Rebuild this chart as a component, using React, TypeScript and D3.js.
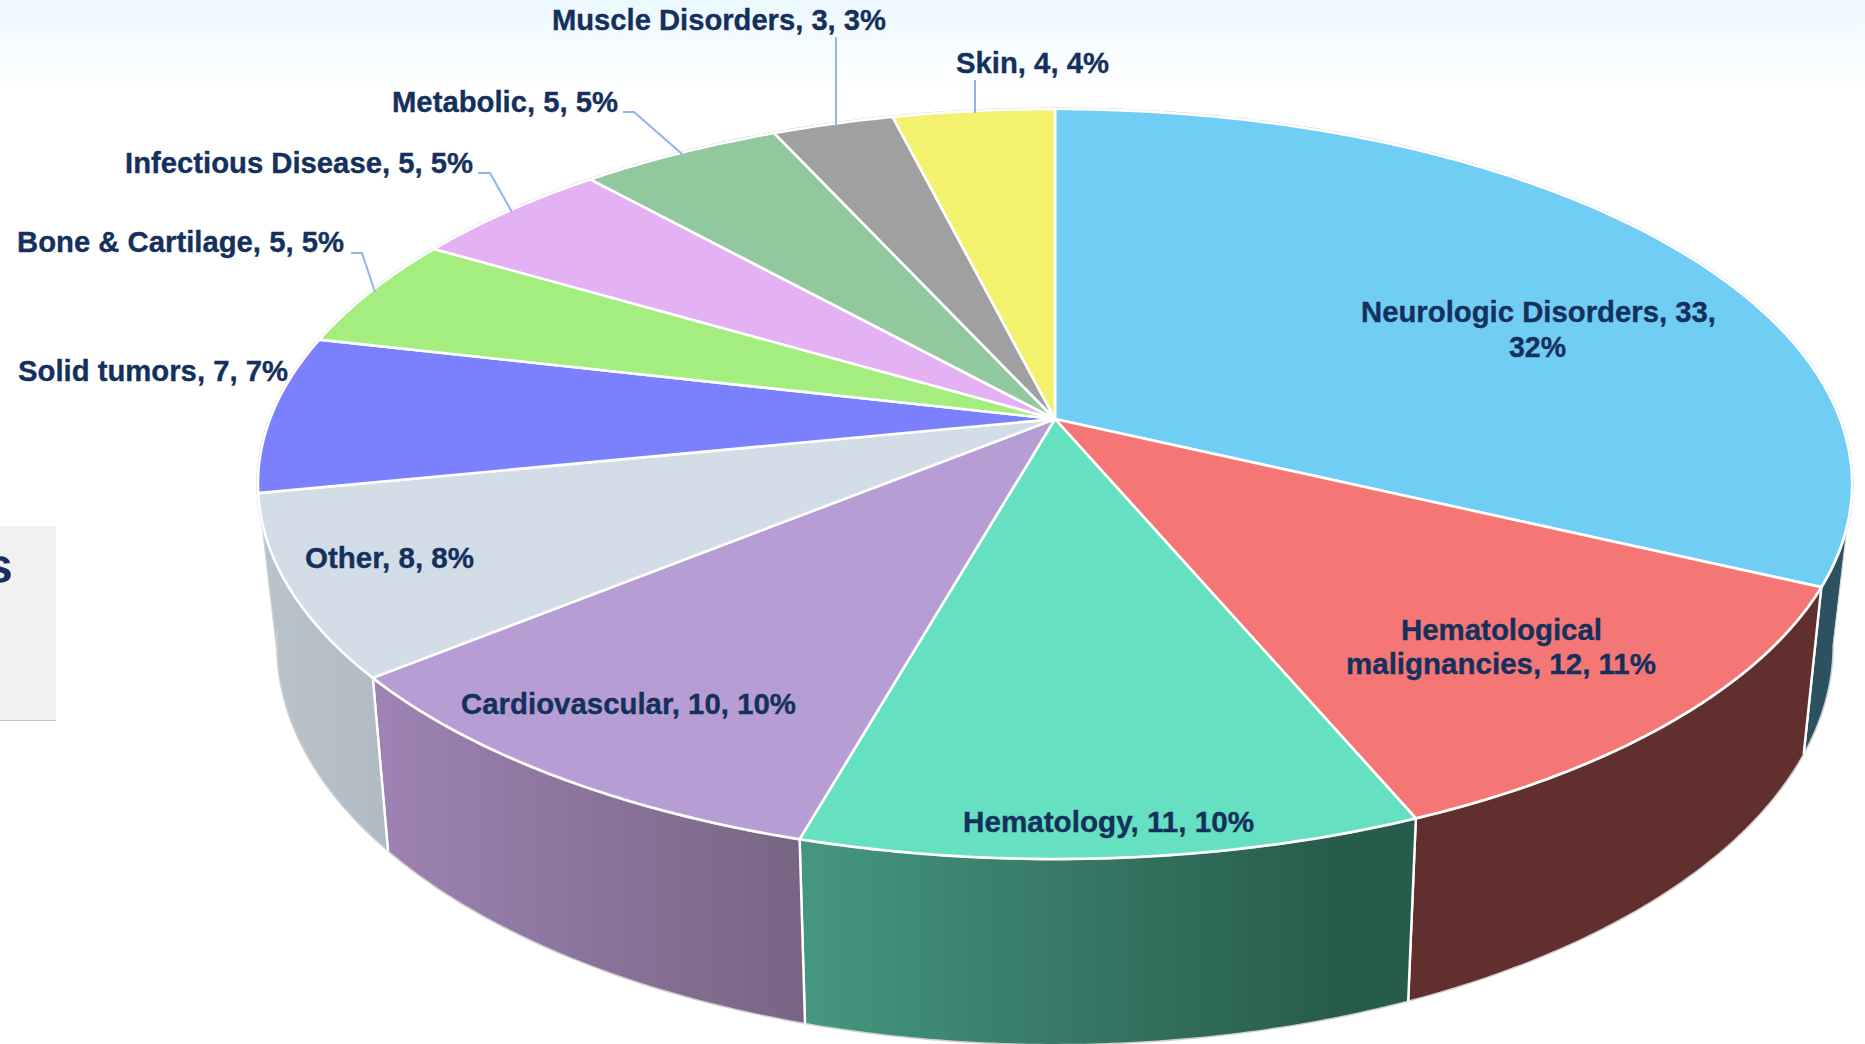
import React from "react";
import * as d3 from "d3";

const categories = ["Neurologic Disorders", "Hematological malignancies", "Hematology", "Cardiovascular", "Other", "Solid tumors", "Bone & Cartilage", "Infectious Disease", "Metabolic", "Muscle Disorders", "Skin"];
const values = [33, 12, 11, 10, 8, 7, 5, 5, 5, 3, 4];
const percents = [32, 11, 10, 10, 8, 7, 5, 5, 5, 3, 4];

const topColors = ["#70cdf4", "#f57775", "#65e0c0", "#b69dd4", "#d3dde8", "#7b80fd", "#a3ee7e", "#e4b1f2", "#92c89e", "#a0a0a0", "#f2f26f"];
const wallStops: Record<number, [string, string, number, number]> = {
  0: ["#2c5161", "#2c5161", 1800, 1850],
  1: ["#622f2f", "#622f2f", 1400, 1810],
  2: ["#459680", "#275b4b", 805, 1340],
  3: ["#9d82b3", "#786583", 385, 800],
  4: ["#b8c3cc", "#b0bbc4", 265, 385],
};

const labelLines: { i: number; part: "all" | 0 | 1; x: number; y: number; w: number }[] = [
  { i: 0, part: 0, x: 1361, y: 322, w: 355 },
  { i: 0, part: 1, x: 1509, y: 357, w: 57 },
  { i: 1, part: 0, x: 1401, y: 640, w: 201 },
  { i: 1, part: 1, x: 1346, y: 674, w: 310 },
  { i: 2, part: "all", x: 963, y: 832, w: 291 },
  { i: 3, part: "all", x: 461, y: 714, w: 335 },
  { i: 4, part: "all", x: 305, y: 568, w: 169 },
  { i: 5, part: "all", x: 18, y: 381, w: 270 },
  { i: 6, part: "all", x: 17, y: 252, w: 327 },
  { i: 7, part: "all", x: 125, y: 173, w: 348 },
  { i: 8, part: "all", x: 392, y: 112, w: 226 },
  { i: 9, part: "all", x: 552, y: 30, w: 334 },
  { i: 10, part: "all", x: 956, y: 73, w: 153 },
];
const leaders: [number, number][][] = [
  [[351, 253], [362, 253], [375, 292]],
  [[478, 173], [490, 173], [512, 212]],
  [[623, 112], [634, 112], [682, 154]],
  [[836, 37], [836, 126]],
  [[975, 80], [975, 113]],
];

const CX = 1055;
const topPlane = { y0: 419, a: 785, b: 363.7, k: 0.1733 };
const botPlane = { y0: 575, a: 766, b: 387, k: 0.176 };

type Plane = typeof topPlane;
const project = (p: Plane, t: number): [number, number] => {
  const u = Math.sin(t), v = -Math.cos(t), d = 1 - p.k * v;
  return [CX + (p.a * u) / d, p.y0 + (p.b * v) / d];
};
const line = d3.line<[number, number]>().x((d) => d[0]).y((d) => d[1]);
const samples = (a: number, b: number) => {
  const n = Math.max(2, Math.ceil(Math.abs(b - a) / 0.01));
  return d3.range(n + 1).map((i) => a + ((b - a) * i) / n);
};

const arcs = d3.pie<number>().sort(null).value((d) => d)(values);
const rad = (deg: number) => (deg * Math.PI) / 180;
const wallRange = (i: number): [number, number] | null => {
  const a = arcs[i];
  const lo = Math.max(a.startAngle, rad(100));
  const hi = Math.min(a.endAngle, rad(262));
  return hi > lo ? [lo, hi] : null;
};

const labelText = (l: (typeof labelLines)[number]) => {
  const full = `${categories[l.i]}, ${values[l.i]}, ${percents[l.i]}%`;
  if (l.part === "all") return full;
  if (l.i === 0) return l.part === 0 ? `${categories[0]}, ${values[0]},` : `${percents[0]}%`;
  return l.part === 0 ? "Hematological" : `malignancies, ${values[1]}, ${percents[1]}%`;
};

export default function App() {
  const rim = line(samples(0, Math.PI * 2).map((t) => project(topPlane, t))) + "Z";
  return (
    <svg
      width={1865}
      height={1044}
      viewBox="0 0 1865 1044"
      style={{ position: "fixed", left: 0, top: 0, background: "#fff" }}
      fontFamily="'Liberation Sans', Arial, sans-serif"
    >
      <defs>
        <linearGradient id="bg" x1="0" x2="0" y1="0" y2="1">
          <stop offset="0" stopColor="#ecf8ff" />
          <stop offset="1" stopColor="#ffffff" />
        </linearGradient>
        {values.map((_, i) =>
          wallStops[i] ? (
            <linearGradient key={i} id={`w${i}`} gradientUnits="userSpaceOnUse" x1={wallStops[i][2]} x2={wallStops[i][3]} y1={0} y2={0}>
              <stop offset="0" stopColor={wallStops[i][0]} />
              <stop offset="1" stopColor={wallStops[i][1]} />
            </linearGradient>
          ) : null
        )}
      </defs>
      <rect x={0} y={0} width={1865} height={88} fill="url(#bg)" />
      <rect x={0} y={526} width={56} height={194} fill="#f1f1f1" />
      <line x1={0} x2={56} y1={720.5} y2={720.5} stroke="#c6c6c6" strokeWidth={1} />
      <text x={-15} y={583} fontSize={50} fontWeight={700} fill="#14305c">s</text>

      <g>
        {values.map((_, i) => {
          const r = wallRange(i);
          if (!r) return null;
          const topPts = samples(r[0], r[1]).map((t) => project(topPlane, t));
          const botPts = samples(r[1], r[0]).map((t) => project(botPlane, t));
          const a = arcs[i];
          const bottomArc = line(botPts) as string;
          return (
            <g key={i}>
              <path d={line([...topPts, ...botPts]) + "Z"} fill={`url(#w${i})`} />
              <path d={bottomArc} fill="none" stroke="#cfcfcf" strokeWidth={1.5} />
              {[a.startAngle, a.endAngle].map((t, j) =>
                t >= rad(100) && t <= rad(250) ? (
                  <path key={j} d={line([project(topPlane, t), project(botPlane, t)]) as string} stroke="#fff" strokeWidth={2.4} fill="none" />
                ) : null
              )}
            </g>
          );
        })}
        <path d={line([project(topPlane, rad(100)), project(botPlane, rad(100))]) as string} stroke="#d6d6d6" strokeWidth={1} fill="none" />
        <path d={line([project(topPlane, arcs[4].endAngle), project(botPlane, arcs[4].endAngle)]) as string} stroke="#d6d6d6" strokeWidth={1} fill="none" />
      </g>

      <path d={rim} fill="none" stroke="#c4c4c4" strokeWidth={3} />
      <g>
        {arcs.map((a, i) => {
          const pts = samples(a.startAngle, a.endAngle).map((t) => project(topPlane, t));
          const centre: [number, number] = [CX, topPlane.y0];
          return (
            <path key={i} d={line([centre, ...pts]) + "Z"} fill={topColors[i]} stroke="#fff" strokeWidth={2.6} strokeLinejoin="round" />
          );
        })}
      </g>

      <g fill="none" stroke="#8fb5ea" strokeWidth={2}>
        {leaders.map((pts, i) => (
          <path key={i} d={line(pts) as string} />
        ))}
      </g>

      <g fontSize={29.5} fontWeight={700} fill="#14305c" stroke="#14305c" strokeWidth={0.35}>
        {labelLines.map((l, i) => (
          <text key={i} x={l.x} y={l.y} textLength={l.w} lengthAdjust="spacingAndGlyphs">
            {labelText(l)}
          </text>
        ))}
      </g>
    </svg>
  );
}
